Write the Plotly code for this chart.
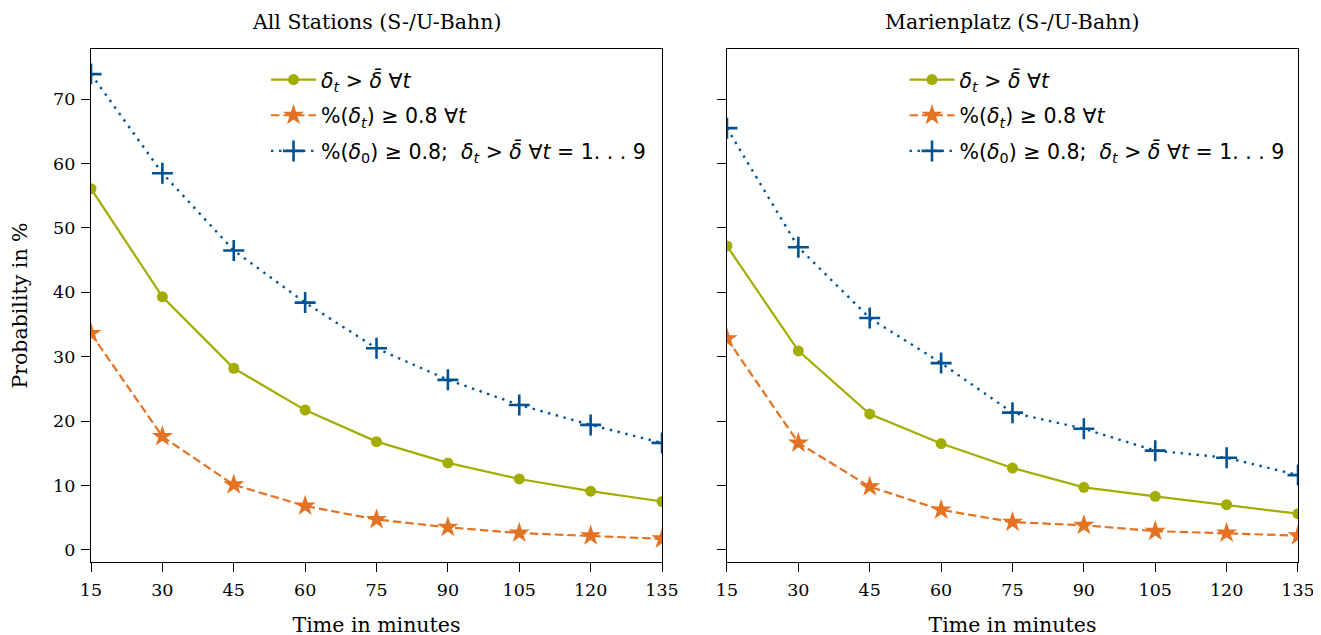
import plotly.graph_objects as go
from plotly.subplots import make_subplots

minutes = [15, 30, 45, 60, 75, 90, 105, 120, 135]

# All Stations
all_above_mean = [56.1, 39.3, 28.2, 21.7, 16.8, 13.5, 11.0, 9.1, 7.5]
all_pct08 = [33.6, 17.6, 10.1, 6.8, 4.7, 3.5, 2.6, 2.2, 1.7]
all_start08 = [73.9, 58.5, 46.5, 38.4, 31.3, 26.4, 22.5, 19.4, 16.6]

# Marienplatz
mp_above_mean = [47.2, 30.9, 21.1, 16.5, 12.7, 9.7, 8.3, 7.0, 5.6]
mp_pct08 = [32.8, 16.6, 9.8, 6.2, 4.3, 3.8, 2.9, 2.6, 2.2]
mp_start08 = [65.5, 47.0, 36.0, 29.0, 21.3, 18.8, 15.4, 14.3, 11.6]

titles = ["All Stations (S-/U-Bahn)", "Marienplatz (S-/U-Bahn)"]
labels = [
    "<i>δ</i><sub><i>t</i></sub> > <i>δ̄</i> ∀<i>t</i>",
    "%(<i>δ</i><sub><i>t</i></sub>) ≥ 0.8 ∀<i>t</i>",
    "%(<i>δ</i><sub>0</sub>) ≥ 0.8;  <i>δ</i><sub><i>t</i></sub> > <i>δ̄</i> ∀<i>t</i> = 1. . . 9",
]

GREEN = "#a2ad00"
ORANGE = "#e37222"
BLUE = "#005293"

fig = make_subplots(rows=1, cols=2, shared_yaxes=True, horizontal_spacing=0.0538,
                    subplot_titles=titles)

datasets = [(all_above_mean, all_pct08, all_start08), (mp_above_mean, mp_pct08, mp_start08)]
for col, (a, b, c) in enumerate(datasets, start=1):
    lg = "legend" if col == 1 else "legend2"
    fig.add_trace(go.Scatter(x=minutes, y=a, name=labels[0], mode="lines+markers",
                             line=dict(color=GREEN, width=2.2),
                             marker=dict(symbol="circle", size=11, color=GREEN),
                             legend=lg, legendgroup=f"a{col}"), row=1, col=col)
    fig.add_trace(go.Scatter(x=minutes, y=b, name=labels[1], mode="lines+markers",
                             line=dict(color=ORANGE, width=2.2, dash="8.5px,4px"),
                             marker=dict(symbol="star", size=16, color=ORANGE),
                             legend=lg, legendgroup=f"b{col}"), row=1, col=col)
    fig.add_trace(go.Scatter(x=minutes, y=c, name=labels[2], mode="lines+markers",
                             line=dict(color=BLUE, width=2.4, dash="2.4px,5.6px"),
                             marker=dict(symbol="cross-thin", size=15,
                                         line=dict(color=BLUE, width=2.6), color=BLUE),
                             legend=lg, legendgroup=f"c{col}"), row=1, col=col)

serif = "DejaVu Serif"
axis_common = dict(showline=True, linecolor="black", linewidth=1.2, mirror=True,
                   ticks="outside", ticklen=9, tickwidth=1.2, tickcolor="black",
                   showgrid=False, zeroline=False,
                   tickfont=dict(family=serif, size=17.5, color="black"))

for col in (1, 2):
    fig.update_xaxes(range=[15, 135], tickvals=minutes, title_text="Time in minutes",
                     title_font=dict(family=serif, size=20.5, color="black"),
                     title_standoff=18, ticklabelstandoff=3,
                     row=1, col=col, **axis_common)
    fig.update_yaxes(range=[-1.9, 77.8], tickvals=[0, 10, 20, 30, 40, 50, 60, 70],
                     ticklabelstandoff=2, row=1, col=col, **axis_common)
fig.update_yaxes(title_text="Probability in %",
                 title_font=dict(family=serif, size=20.5, color="black"),
                 title_standoff=19, row=1, col=1)
fig.update_yaxes(showticklabels=False, row=1, col=2)

for ann in fig.layout.annotations:
    ann.font = dict(family=serif, size=20.5, color="black")
    ann.yshift = 13

leg_common = dict(font=dict(family="DejaVu Sans", size=20.5, color="black"),
                  bgcolor="rgba(0,0,0,0)", borderwidth=0, tracegroupgap=6,
                  itemwidth=45, yanchor="top", xanchor="left")
fig.update_layout(
    width=1321, height=635,
    margin=dict(l=83, r=31, t=41, b=81),
    paper_bgcolor="white", plot_bgcolor="white",
    legend=dict(x=0.145, y=0.979, **leg_common),
    legend2=dict(x=0.674, y=0.979, **leg_common),
)

fig.write_html("out.html", config={"displayModeBar": False})
